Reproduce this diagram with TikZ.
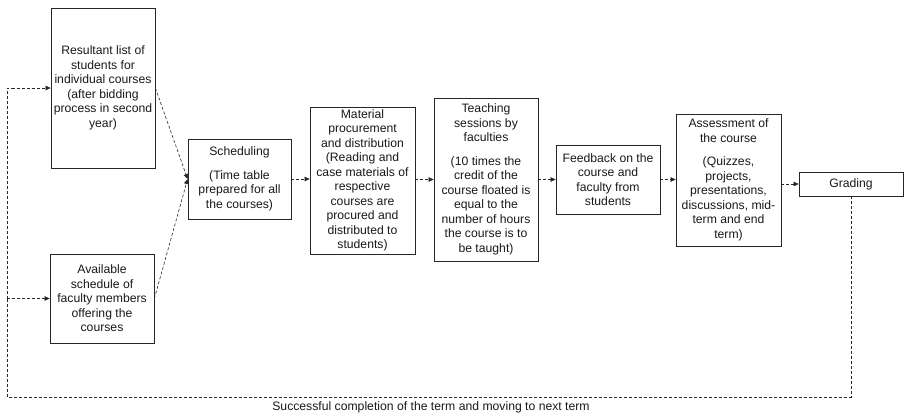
\documentclass[tikz,border=0pt]{standalone}
\usepackage{fontspec}
\setmainfont{Liberation Sans}
\usetikzlibrary{arrows.meta}
\begin{document}
\begin{tikzpicture}[x=1pt,y=-1pt,
  box/.style={draw=black!85,line width=0.75pt,align=center,inner sep=0pt,
    font=\fontsize{12.2}{14.5}\selectfont,text=black!90},
  flow/.style={draw=black!85,line width=0.6pt,dash pattern=on 3pt off 2pt,
    -{Triangle[length=5pt,width=4.5pt]}},
  loopline/.style={draw=black!85,line width=0.6pt,dash pattern=on 3pt off 2pt}]
\useasboundingbox (0,0) rectangle (904,418);
\node[box,minimum width=104pt,minimum height=160pt] (res) at (103,88)
  {Resultant list of\\students for\\individual courses\\(after bidding\\process in second\\year)};
\node[box,minimum width=104pt,minimum height=89pt] (avail) at (102,298.5)
  {Available\\schedule of\\faculty members\\offering the\\courses};
\node[box,minimum width=103pt,minimum height=80pt] (sched) at (239.5,179)
  {Scheduling\\[9pt](Time table\\prepared for all\\the courses)};
\node[box,minimum width=105pt,minimum height=147pt] (mat) at (362.5,180.5)
  {Material\\procurement\\and distribution\\(Reading and\\case materials of\\respective\\courses are\\procured and\\distributed to\\students)};
\node[box,minimum width=104pt,minimum height=163pt] (teach) at (486,179.5)
  {Teaching\\sessions by\\faculties\\[9pt](10 times the\\credit of the\\course floated is\\equal to the\\number of hours\\the course is to\\be taught)};
\node[box,minimum width=104pt,minimum height=69pt] (feed) at (608,179.5)
  {Feedback on the\\course and\\faculty from\\students};
\node[box,minimum width=105pt,minimum height=132pt] (assess) at (728.5,180)
  {Assessment of\\the course\\[9pt](Quizzes,\\projects,\\presentations,\\discussions, mid-\\term and end\\term)};
\node[box,minimum width=104pt,minimum height=24pt] (grad) at (851,184) {Grading};
\node[font=\fontsize{12.2}{14.5}\selectfont,text=black!90,inner sep=0pt] (lbl) at (431,407)
  {Successful completion of the term and moving to next term};
\coordinate (bl) at (7,397);
\coordinate (lj) at (bl |- avail.west);
% flows
\draw[flow] (res.east) -- (sched.west);
\draw[flow] (avail.east) -- (sched.west);
\draw[flow] (sched.east) -- (sched.east -| mat.west);
\draw[flow] (mat.east |- teach.west) -- (teach.west);
\draw[flow] (teach.east) -- (teach.east -| feed.west);
\draw[flow] (feed.east) -- (feed.east -| assess.west);
\draw[flow] (grad.west -| assess.east) -- (grad.west);
% loop back
\draw[loopline] (grad.south) |- (bl) -- (lj);
\draw[flow] (lj) |- (res.west);
\draw[flow] (lj) -- (avail.west);
\end{tikzpicture}
\end{document}
